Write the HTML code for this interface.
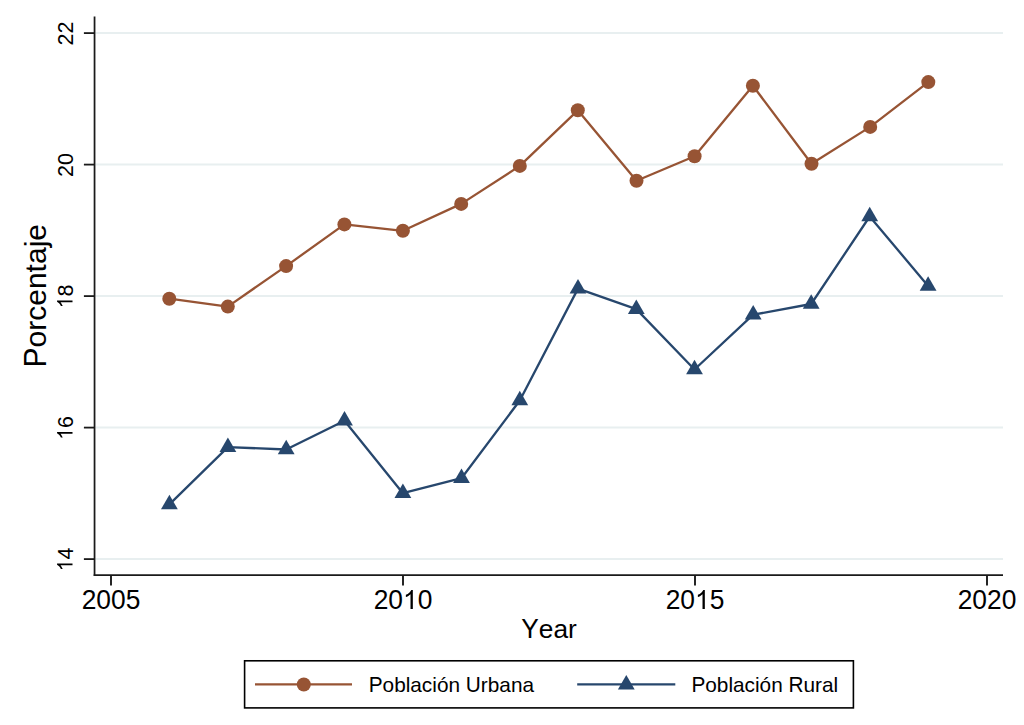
<!DOCTYPE html>
<html><head><meta charset="utf-8"><style>
html,body{margin:0;padding:0;background:#fff;}
svg{display:block;}
text{font-family:"Liberation Sans",sans-serif;fill:#000;font-kerning:none;}
</style></head><body>
<svg width="1024" height="725" viewBox="0 0 1024 725">
<rect x="0" y="0" width="1024" height="725" fill="#FFFFFF"/>
<line x1="95.5" y1="33" x2="1003" y2="33" stroke="#E8EFF0" stroke-width="2"/>
<line x1="95.5" y1="164.5" x2="1003" y2="164.5" stroke="#E8EFF0" stroke-width="2"/>
<line x1="95.5" y1="296" x2="1003" y2="296" stroke="#E8EFF0" stroke-width="2"/>
<line x1="95.5" y1="427.5" x2="1003" y2="427.5" stroke="#E8EFF0" stroke-width="2"/>
<line x1="95.5" y1="559" x2="1003" y2="559" stroke="#E8EFF0" stroke-width="2"/>
<line x1="94.55" y1="16.5" x2="94.55" y2="576" stroke="#1a1a1a" stroke-width="1.75"/>
<line x1="93.7" y1="575.2" x2="1003" y2="575.2" stroke="#1a1a1a" stroke-width="1.75"/>
<line x1="83.9" y1="33.1" x2="94" y2="33.1" stroke="#1a1a1a" stroke-width="1.8"/>
<g transform="translate(72.50,33.50) rotate(-90)"><text x="-11.96" y="0" font-size="21.5px" transform="scale(1,1.041)">22</text></g>
<line x1="83.9" y1="164.6" x2="94" y2="164.6" stroke="#1a1a1a" stroke-width="1.8"/>
<g transform="translate(72.50,165.00) rotate(-90)"><text x="-11.96" y="0" font-size="21.5px" transform="scale(1,1.041)">20</text></g>
<line x1="83.9" y1="296.1" x2="94" y2="296.1" stroke="#1a1a1a" stroke-width="1.8"/>
<g transform="translate(72.50,296.50) rotate(-90)"><text x="-11.96" y="0" font-size="21.5px" transform="scale(1,1.041)"> 8</text><path d="M763 0L583 0L583 1147Q518 1085 412 1023Q307 961 223 930L223 1104Q374 1175 487 1276Q600 1377 647 1472L763 1472Z" transform="translate(-11.96,0) scale(0.010498,-0.010498)" fill="#000"/></g>
<line x1="83.9" y1="427.6" x2="94" y2="427.6" stroke="#1a1a1a" stroke-width="1.8"/>
<g transform="translate(72.50,428.00) rotate(-90)"><text x="-11.96" y="0" font-size="21.5px" transform="scale(1,1.041)"> 6</text><path d="M763 0L583 0L583 1147Q518 1085 412 1023Q307 961 223 930L223 1104Q374 1175 487 1276Q600 1377 647 1472L763 1472Z" transform="translate(-11.96,0) scale(0.010498,-0.010498)" fill="#000"/></g>
<line x1="83.9" y1="559.1" x2="94" y2="559.1" stroke="#1a1a1a" stroke-width="1.8"/>
<g transform="translate(72.50,559.50) rotate(-90)"><text x="-11.96" y="0" font-size="21.5px" transform="scale(1,1.041)"> 4</text><path d="M763 0L583 0L583 1147Q518 1085 412 1023Q307 961 223 930L223 1104Q374 1175 487 1276Q600 1377 647 1472L763 1472Z" transform="translate(-11.96,0) scale(0.010498,-0.010498)" fill="#000"/></g>
<line x1="111" y1="575" x2="111" y2="585.6" stroke="#1a1a1a" stroke-width="1.9"/>
<g transform="translate(111.00,609.10)"><text x="-29.36" y="0" font-size="26.4px" transform="scale(1,1.041)">2005</text></g>
<line x1="403" y1="575" x2="403" y2="585.6" stroke="#1a1a1a" stroke-width="1.9"/>
<g transform="translate(403.00,609.10)"><text x="-29.36" y="0" font-size="26.4px" transform="scale(1,1.041)">20 0</text><path d="M763 0L583 0L583 1147Q518 1085 412 1023Q307 961 223 930L223 1104Q374 1175 487 1276Q600 1377 647 1472L763 1472Z" transform="translate(0.00,0) scale(0.012891,-0.012891)" fill="#000"/></g>
<line x1="695" y1="575" x2="695" y2="585.6" stroke="#1a1a1a" stroke-width="1.9"/>
<g transform="translate(695.00,609.10)"><text x="-29.36" y="0" font-size="26.4px" transform="scale(1,1.041)">20 5</text><path d="M763 0L583 0L583 1147Q518 1085 412 1023Q307 961 223 930L223 1104Q374 1175 487 1276Q600 1377 647 1472L763 1472Z" transform="translate(0.00,0) scale(0.012891,-0.012891)" fill="#000"/></g>
<line x1="987" y1="575" x2="987" y2="585.6" stroke="#1a1a1a" stroke-width="1.9"/>
<g transform="translate(987.00,609.10)"><text x="-29.36" y="0" font-size="26.4px" transform="scale(1,1.041)">2020</text></g>
<g transform="translate(46.00,295.70) rotate(-90)"><text x="-71.71" y="0" font-size="30.0px" transform="scale(1,1.041)">P</text><text x="-51.70" y="0" font-size="30.0px" transform="scale(1,0.981)">orcentaje</text></g>
<g transform="translate(549.00,637.70)"><text x="-27.78" y="0" font-size="26.3px" transform="scale(1,1.041)">Y</text><text x="-10.23" y="0" font-size="26.3px" transform="scale(1,0.981)">ear</text></g>
<polyline points="169.3,298.7 227.8,306.6 286.1,266.1 344.4,224.4 402.9,230.8 461.2,203.9 519.8,165.9 577.8,110.3 636.5,180.7 694.6,156.2 752.9,85.7 811.5,163.7 870.2,126.9 928.3,82.1" fill="none" stroke="#975434" stroke-width="2.3" stroke-linejoin="round"/>
<polyline points="169.4,504.4 227.9,447.1 286.2,449.5 344.5,420.7 402.9,493.2 461.5,478.2 519.8,400.5 578.0,288.6 636.3,309.1 694.5,369.5 753.2,314.7 811.2,304.0 869.7,216.5 928.1,285.9" fill="none" stroke="#27476D" stroke-width="2.3" stroke-linejoin="round"/>
<circle cx="169.3" cy="298.7" r="7" fill="#975434"/>
<circle cx="227.8" cy="306.6" r="7" fill="#975434"/>
<circle cx="286.1" cy="266.1" r="7" fill="#975434"/>
<circle cx="344.4" cy="224.4" r="7" fill="#975434"/>
<circle cx="402.9" cy="230.8" r="7" fill="#975434"/>
<circle cx="461.2" cy="203.9" r="7" fill="#975434"/>
<circle cx="519.8" cy="165.9" r="7" fill="#975434"/>
<circle cx="577.8" cy="110.3" r="7" fill="#975434"/>
<circle cx="636.5" cy="180.7" r="7" fill="#975434"/>
<circle cx="694.6" cy="156.2" r="7" fill="#975434"/>
<circle cx="752.9" cy="85.7" r="7" fill="#975434"/>
<circle cx="811.5" cy="163.7" r="7" fill="#975434"/>
<circle cx="870.2" cy="126.9" r="7" fill="#975434"/>
<circle cx="928.3" cy="82.1" r="7" fill="#975434"/>
<polygon points="169.40,494.70 161.00,509.20 177.80,509.20" fill="#27476D"/>
<polygon points="227.90,437.40 219.50,451.90 236.30,451.90" fill="#27476D"/>
<polygon points="286.20,439.80 277.80,454.30 294.60,454.30" fill="#27476D"/>
<polygon points="344.50,411.00 336.10,425.50 352.90,425.50" fill="#27476D"/>
<polygon points="402.90,483.50 394.50,498.00 411.30,498.00" fill="#27476D"/>
<polygon points="461.50,468.50 453.10,483.00 469.90,483.00" fill="#27476D"/>
<polygon points="519.80,390.80 511.40,405.30 528.20,405.30" fill="#27476D"/>
<polygon points="578.00,278.90 569.60,293.40 586.40,293.40" fill="#27476D"/>
<polygon points="636.30,299.40 627.90,313.90 644.70,313.90" fill="#27476D"/>
<polygon points="694.50,359.80 686.10,374.30 702.90,374.30" fill="#27476D"/>
<polygon points="753.20,305.00 744.80,319.50 761.60,319.50" fill="#27476D"/>
<polygon points="811.20,294.30 802.80,308.80 819.60,308.80" fill="#27476D"/>
<polygon points="869.70,206.80 861.30,221.30 878.10,221.30" fill="#27476D"/>
<polygon points="928.10,276.20 919.70,290.70 936.50,290.70" fill="#27476D"/>
<rect x="244.6" y="660.8" width="608.8" height="47.1" fill="none" stroke="#000" stroke-width="1.6"/>
<line x1="255" y1="684.4" x2="352" y2="684.4" stroke="#975434" stroke-width="2.3"/>
<circle cx="303.8" cy="684.5" r="7" fill="#975434"/>
<g transform="translate(368.70,692.30)"><text x="0.00" y="0" font-size="20.8px" transform="scale(1,1.041)">P</text><text x="13.87" y="0" font-size="20.8px" transform="scale(1,0.981)">oblación </text><text x="97.13" y="0" font-size="20.8px" transform="scale(1,1.041)">U</text><text x="112.16" y="0" font-size="20.8px" transform="scale(1,0.981)">rbana</text></g>
<line x1="577.2" y1="684.4" x2="675.3" y2="684.4" stroke="#27476D" stroke-width="2.3"/>
<polygon points="626.30,675.03 617.90,689.53 634.70,689.53" fill="#27476D"/>
<g transform="translate(691.40,692.20)"><text x="0.00" y="0" font-size="20.8px" transform="scale(1,1.041)">P</text><text x="13.87" y="0" font-size="20.8px" transform="scale(1,0.981)">oblación </text><text x="97.13" y="0" font-size="20.8px" transform="scale(1,1.041)">R</text><text x="112.16" y="0" font-size="20.8px" transform="scale(1,0.981)">ural</text></g>
</svg>
</body></html>
